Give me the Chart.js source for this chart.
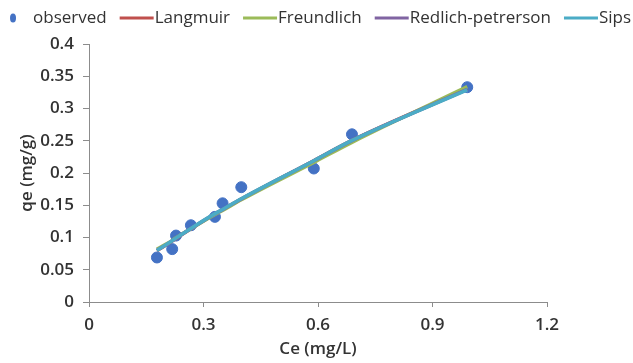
<!DOCTYPE html>
<html>
<head>
<meta charset="utf-8">
<script src="https://cdn.jsdelivr.net/npm/chart.js@4"></script>
<style>
  html, body { margin: 0; padding: 0; background: #fff; }
  #wrap { width: 633px; height: 363px; }
</style>
</head>
<body>
<div id="wrap"><canvas id="myChart" width="633" height="363"></canvas></div>
<script>
// equilibrium data: Ce (mg/L) and qe (mg/g)
var ceObs = [0.178, 0.218, 0.228, 0.267, 0.330, 0.350, 0.399, 0.589, 0.689, 0.991];
var qeObs = [0.069, 0.082, 0.103, 0.119, 0.132, 0.153, 0.178, 0.207, 0.260, 0.333];

// fitted isotherm curves, evaluated at the same Ce values
var qeLangmuir   = [0.0795, 0.0945, 0.0985, 0.1135, 0.1365, 0.1430, 0.1595, 0.2190, 0.2505, 0.3300];
var qeFreundlich = [0.0820, 0.0955, 0.0995, 0.1135, 0.1355, 0.1420, 0.1585, 0.2165, 0.2475, 0.3340];
var qeRedlich    = [0.0798, 0.0948, 0.0988, 0.1138, 0.1368, 0.1432, 0.1598, 0.2190, 0.2503, 0.3295];
var qeSips       = [0.0800, 0.0950, 0.0990, 0.1140, 0.1370, 0.1435, 0.1600, 0.2190, 0.2505, 0.3290];

var xTicks = [0, 0.3, 0.6, 0.9, 1.2];
var yTicks = [0, 0.05, 0.1, 0.15, 0.2, 0.25, 0.3, 0.35, 0.4];

var FONT = "'Open Sans', 'DejaVu Sans', sans-serif";
var TEXT = '#333333';
var AXIS = '#8c8c8c';

function toPoints(xs, ys) {
  var pts = [];
  for (var i = 0; i < xs.length; i++) pts.push({ x: xs[i], y: ys[i] });
  return pts;
}

function fmt(v) {
  return String(Number(v.toFixed(2)));
}

function curve(label, ys, color, order) {
  return {
    label: label,
    data: toPoints(ceObs, ys),
    showLine: true,
    borderColor: color,
    backgroundColor: color,
    borderWidth: 3.5,
    pointRadius: 0,
    cubicInterpolationMode: 'monotone',
    order: order
  };
}

// legend row across the top, drawn by hand
var topLegend = {
  id: 'topLegend',
  afterDraw: function(chart) {
    var ctx = chart.ctx;
    var y = 18;
    ctx.save();
    ctx.font = '17px ' + FONT;
    ctx.textBaseline = 'middle';
    var x = 8;
    chart.data.datasets.forEach(function(ds, i) {
      if (i === 0) {
        ctx.fillStyle = ds.backgroundColor;
        ctx.beginPath();
        ctx.ellipse(x + 5, y, 3, 4.5, 0, 0, Math.PI * 2);
        ctx.fill();
        x += 25;
      } else {
        ctx.strokeStyle = ds.borderColor;
        ctx.lineWidth = 3;
        ctx.beginPath();
        ctx.moveTo(x, y);
        ctx.lineTo(x + 34, y);
        ctx.stroke();
        x += 35;
      }
      ctx.fillStyle = TEXT;
      ctx.fillText(ds.label, x, y);
      x += ctx.measureText(ds.label).width + 13;
    });
    ctx.restore();
  }
};

var ctx = document.getElementById('myChart').getContext('2d');
var myChart = new Chart(ctx, {
  type: 'scatter',
  data: {
    datasets: [
      {
        label: 'observed',
        data: toPoints(ceObs, qeObs),
        backgroundColor: '#4472C4',
        borderColor: '#4472C4',
        pointRadius: 5.5,
        pointHoverRadius: 5.5,
        order: 9
      },
      curve('Langmuir', qeLangmuir, '#C0504D', 4),
      curve('Freundlich', qeFreundlich, '#9BBB59', 3),
      curve('Redlich-petrerson', qeRedlich, '#8064A2', 2),
      curve('Sips', qeSips, '#4BACC6', 1)
    ]
  },
  options: {
    responsive: false,
    animation: false,
    layout: { padding: { top: 44, right: 86, left: 0, bottom: 0 } },
    plugins: {
      legend: { display: false },
      tooltip: { enabled: false }
    },
    scales: {
      x: {
        type: 'linear',
        min: 0,
        max: 1.2,
        afterBuildTicks: function(scale) {
          scale.ticks = xTicks.map(function(v) { return { value: v }; });
        },
        afterFit: function(scale) { scale.height = 61; },
        grid: { drawOnChartArea: false, drawTicks: true, tickLength: 5, color: AXIS, lineWidth: 1 },
        border: { color: AXIS, width: 1 },
        ticks: {
          padding: 8,
          color: TEXT,
          font: { family: FONT, size: 17, weight: '600' },
          callback: function(v) { return fmt(v); }
        },
        title: {
          display: true,
          text: 'Ce (mg/L)',
          color: TEXT,
          font: { family: FONT, size: 17, weight: '600' },
          padding: { top: 0, bottom: 4 }
        }
      },
      y: {
        type: 'linear',
        min: 0,
        max: 0.4,
        afterBuildTicks: function(scale) {
          scale.ticks = yTicks.map(function(v) { return { value: v }; });
        },
        afterFit: function(scale) { scale.width = 89; },
        grid: { drawOnChartArea: false, drawTicks: true, tickLength: 6, color: AXIS, lineWidth: 1 },
        border: { color: AXIS, width: 1 },
        ticks: {
          padding: 9,
          color: TEXT,
          font: { family: FONT, size: 17, weight: '600' },
          callback: function(v) { return fmt(v); }
        },
        title: {
          display: true,
          text: 'qe (mg/g)',
          color: TEXT,
          font: { family: FONT, size: 17, weight: '600' },
          padding: { top: 17, bottom: 0 }
        }
      }
    }
  },
  plugins: [topLegend]
});
</script>
</body>
</html>
